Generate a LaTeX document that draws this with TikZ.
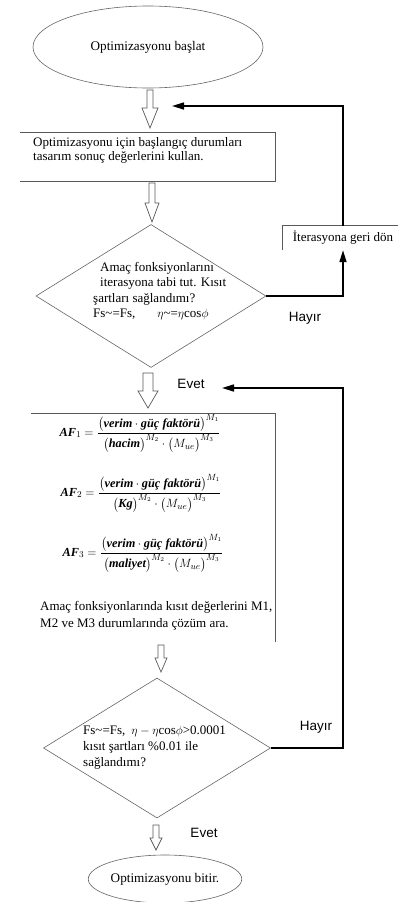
\documentclass[tikz,border=0pt]{standalone}
\usepackage{amsmath}
\usepackage{fontspec}
\setmainfont{Liberation Serif}
\newfontfamily\sansf{Liberation Sans}
\usetikzlibrary{shapes.geometric,arrows.meta,calc}
\newcommand\bitx[1]{\mbox{\bfseries\itshape #1}}
\newcommand\tld{{\char"7E}}
\newcommand\afrac[2]{$\displaystyle\bitx{AF}_{#1}=\frac{\bigl(\bitx{verim}\cdot\bitx{güç faktörü}\bigr)^{M_1}}{\bigl(\bitx{#2}\bigr)^{M_2}\cdot\bigl(M_{ue}\bigr)^{M_3}}$}
\newcommand\hollowarr[6]{%
  \draw[hollowline] ({#1-#5},#2) -- ({#1-#5},#3) -- ({#1-#6},#3) -- (#1,#4) -- ({#1+#6},#3) -- ({#1+#5},#3) -- ({#1+#5},#2) -- cycle;}
\tikzset{
  shapeline/.style={draw=black!60, line width=0.6pt},
  boxline/.style={draw=black!65, line width=0.7pt},
  hollowline/.style={draw=black!65, line width=0.7pt},
  conn/.style={draw=black, line width=1.6pt, -{Triangle[length=12pt,width=7pt]}},
  term/.style={ellipse, shapeline, inner sep=0pt, font=\fontsize{13.2}{15}\selectfont},
  dec/.style={diamond, shapeline, inner sep=0pt, aspect=1.6},
  plain/.style={draw=none, inner sep=0pt},
  txt/.style={inner sep=0pt, align=left, font=\fontsize{13}{15.5}\selectfont},
  lbl/.style={inner sep=0pt, font=\sansf\fontsize{13.5}{15}\selectfont},
  formula/.style={inner sep=0pt, font=\fontsize{12.3}{14}\selectfont}
}
\begin{document}
\begin{tikzpicture}[x=1pt,y=-1pt]
\useasboundingbox (0,0) rectangle (397,902);
\fill[white] (0,0) rectangle (397,902);

% start
\node[term, minimum width=230pt, minimum height=82pt] (start) at (148,47) {Optimizasyonu başlat};
\hollowarr{150}{90}{108}{128}{3}{8}

% box 1
\node[plain, minimum width=255pt, minimum height=48pt] (b1) at (147.5,157) {};
\draw[boxline] (b1.north west) -- (b1.north east) -- (b1.south east) -- (b1.south west);
\node[txt, anchor=north west, font=\fontsize{13}{14}\selectfont] (b1t) at (33,137) {Optimizasyonu için başlangıç durumları\\tasarım sonuç değerlerini kullan.};
\hollowarr{152}{183}{203}{222}{3}{7}

% decision 1
\node[dec, minimum width=230pt, minimum height=143pt] (d1) at (151,296) {};
\node[txt, anchor=north west] (d1t) at (93,262) {\hspace{7pt}Amaç fonksiyonlarını\\\hspace{7pt}iterasyona tabi tut. Kısıt\\şartları sağlandımı?\\Fs\tld=Fs,\hspace{22pt}$\eta$\tld=$\eta$cos$\phi$};

% back box
\node[plain, minimum width=120pt, minimum height=24pt, font=\fontsize{13}{15}\selectfont] (back) at (343,238) {İterasyona geri dön};
\draw[boxline] (back.north east) -- (back.north west) -- (back.south west);
\coordinate (ret1) at (172,106);
\draw[conn] (d1.east) -| (back.south);
\draw[conn] (back.north) |- (ret1);
\node[lbl] (h1) at (305,318) {Hayır};

% evet 1
\hollowarr{148}{373}{391}{408}{5}{10}
\node[lbl] (e1) at (191,384) {Evet};

% box 2
\node[plain, minimum width=244pt, minimum height=228pt] (b2) at (153,528) {};
\draw[boxline] (b2.north west) -- (b2.north east) -- (b2.south east);
\node[formula] (f1) at (140,433) {\afrac{1}{hacim}};
\node[formula] (f2) at (141,493) {\afrac{2}{Kg}};
\node[formula] (f3) at (143,553) {\afrac{3}{maliyet}};
\node[txt, anchor=north west, font=\fontsize{13}{17}\selectfont] (b2t) at (40,601) {Amaç fonksiyonlarında kısıt değerlerini M1,\\M2 ve M3 durumlarında çözüm ara.};
\hollowarr{161}{645}{658}{672}{3}{6}

% decision 2
\node[dec, minimum width=227pt, minimum height=140pt] (d2) at (157,748) {};
\node[txt, anchor=north west, font=\fontsize{13}{16}\selectfont] (d2t) at (83,726) {Fs\tld=Fs,\hspace{6pt}$\eta-\eta$cos$\phi$>0.0001\\kısıt şartları \%0.01 ile\\sağlandımı?};
\coordinate (rc) at (343,388);
\coordinate (ret2) at (222,388);
\draw[conn] (d2.east) -| (rc) -- (ret2);
\node[lbl] (h2) at (316,727) {Hayır};

% evet 2
\hollowarr{156}{825}{838}{850}{3}{6}
\node[lbl] (e2) at (204,833) {Evet};

% end
\node[term, minimum width=148pt, minimum height=48pt] (stop) at (165,879) {Optimizasyonu bitir.};
\end{tikzpicture}
\end{document}
